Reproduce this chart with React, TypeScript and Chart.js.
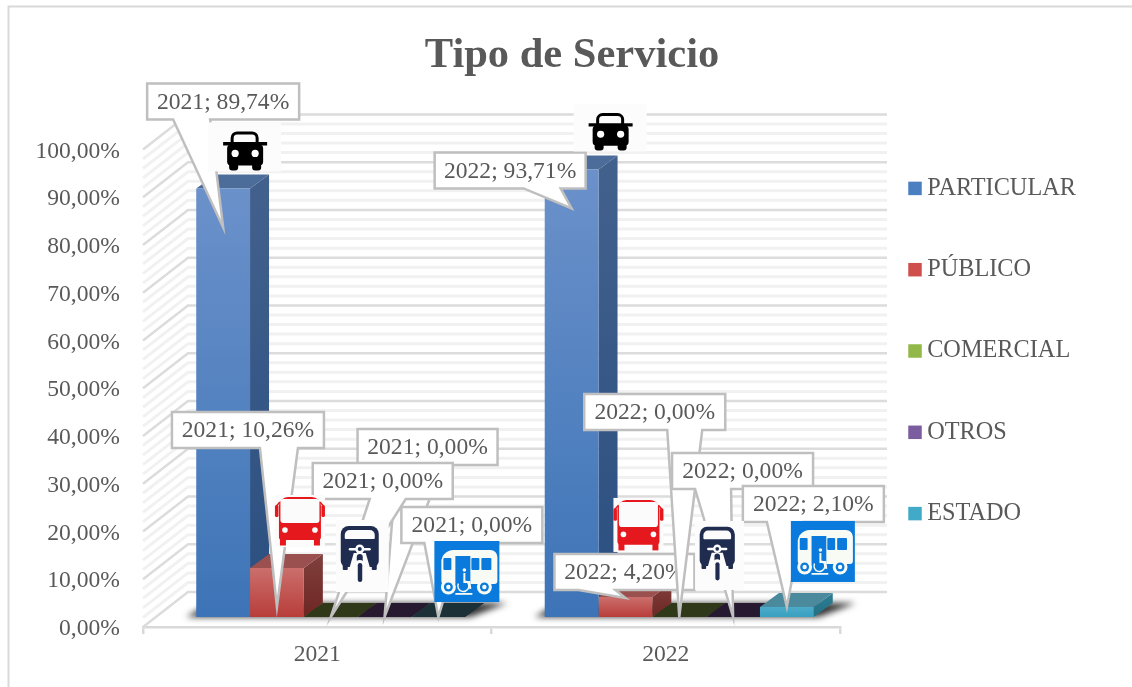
import React, { useEffect, useRef } from "react";
import { Chart, registerables } from "chart.js";

Chart.register(...registerables);

const categories = ["2021", "2022"];
const seriesNames = ["PARTICULAR", "PÚBLICO", "COMERCIAL", "OTROS", "ESTADO"];
const particular = [89.74, 93.71];
const publico = [10.26, 4.2];
const comercial = [0, 0];
const otros = [0, 0];
const estado = [0, 2.1];
const yTickStep = 10;
const yMinorStep = 2;

const FONT = '"Liberation Serif", "Times New Roman", serif';
const TEXT = "#595959";
const FONT_SIZE = 23.6;
const LEGEND_FONT_SIZE = 24.3;

// face colours: front top, front bottom, side top, side bottom, top face, zero-height top face, legend
const faces = [
  { ft: "#6b91ca", fb: "#3d74b7", st: "#43618d", sb: "#2a4f80", top: "#4c6c99", zero: "#4c6c99", leg: "#4a7fc1" },
  { ft: "#cb6f6c", fb: "#b83d3a", st: "#80403d", sb: "#6e2623", top: "#9a504e", zero: "#9a504e", leg: "#cf4f4c" },
  { ft: "#9bbb59", fb: "#7f9f3c", st: "#6a8030", sb: "#5a7028", top: "#2f3819", zero: "#2f3819", leg: "#92b84a" },
  { ft: "#8064a2", fb: "#654a87", st: "#503a6a", sb: "#433058", top: "#271a30", zero: "#271a30", leg: "#7b5c9e" },
  { ft: "#4cabc9", fb: "#38a0c0", st: "#2d7f93", sb: "#256f84", top: "#4b8a9c", zero: "#1c3137", leg: "#41aac8" },
];

// callout placement, relative to the tip on each bar: [series, category, tipDy, boxDx, boxDy, boxW, tailFrom, tailTo]
const calloutOrder: number[][] = [
  [0, 0, 39, -76, -144, 152, -50, -13],
  [1, 0, 39, -105, -195, 152, -17, 21],
  [3, 0, 0, -27, -188, 140, 12, 58],
  [2, 0, 0, -18, -154, 140, 39, 75],
  [4, 0, 0, -37, -110, 141, -14, 22],
  [0, 1, 39, -137, -56, 151, -48, -11],
  [1, 1, 1, -71, -44, 140, -47, -10],
  [2, 1, 0, -95, -223, 141, -12, 23],
  [3, 1, 0, -61, -164, 141, -38, -2],
  [4, 1, 0, -44, -121, 141, -20, 16],
];
const BOX_H = 36;

// icons, relative to the same tip: [kind, series, category, tipDy, dx, dy, w, h]
const iconPlace: (string | number)[][] = [
  ["car", 0, 0, 39, -15, -105, 73, 49],
  ["bus", 1, 0, 39, -2, -112, 50, 52],
  ["moto", 2, 0, 0, 5, -97, 53, 72],
  ["blue", 4, 0, 0, -4, -76, 65, 61],
  ["car", 0, 1, 39, 2, -104, 73, 47],
  ["bus", 1, 1, 1, -12, -100, 50, 54],
  ["moto", 3, 1, 0, -38, -96, 49, 69],
  ["blue", 4, 1, 0, 4, -86, 64, 61],
];

const SHIFT_X = 13.5;
const SHIFT_Y = -10;
const DX = 19;
const DY = 14;
const WALL_X = 45;
const WALL_Y = 35;
const WALL_END = 887;
const LEGEND_PAD = 57;

const fmt = (v: number) => v.toFixed(2).replace(".", ",") + "%";

function poly(c: CanvasRenderingContext2D, pts: number[][], fill: any) {
  c.beginPath();
  pts.forEach((p, i) => (i ? c.lineTo(p[0], p[1]) : c.moveTo(p[0], p[1])));
  c.closePath();
  c.fillStyle = fill;
  c.fill();
}

function unit(c: CanvasRenderingContext2D, x: number, y: number, w: number, h: number, uw: number, uh: number, bg: string, fn: () => void) {
  c.save();
  c.fillStyle = bg;
  c.fillRect(x, y, w, h);
  c.translate(x, y);
  c.scale(w / uw, h / uh);
  fn();
  c.restore();
}

function rr(c: CanvasRenderingContext2D, x: number, y: number, w: number, h: number, r: any, fill: string) {
  c.beginPath();
  c.roundRect(x, y, w, h, r);
  c.fillStyle = fill;
  c.fill();
}

function circle(c: CanvasRenderingContext2D, x: number, y: number, r: number, fill: string) {
  c.beginPath();
  c.arc(x, y, r, 0, Math.PI * 2);
  c.fillStyle = fill;
  c.fill();
}

function drawCar(c: CanvasRenderingContext2D, x: number, y: number, w: number, h: number) {
  unit(c, x, y, w, h, 73, 49, "#fcfcfc", () => {
    const k = "#000";
    c.lineWidth = 3;
    c.strokeStyle = k;
    c.beginPath();
    c.roundRect(24, 10.5, 25, 16, [5, 5, 0, 0]);
    c.stroke();
    rr(c, 15, 19.5, 44, 3.5, 0, k);
    rr(c, 19, 22, 36, 21, 4, k);
    rr(c, 21, 40, 9, 8, 3, k);
    rr(c, 44, 40, 9, 8, 3, k);
    circle(c, 27, 31, 3.6, "#fff");
    circle(c, 47, 31, 3.6, "#fff");
  });
}

function drawBus(c: CanvasRenderingContext2D, x: number, y: number, w: number, h: number) {
  unit(c, x, y, w, h, 50, 52, "#fbfbfb", () => {
    const r = "#e5191d";
    rr(c, 0, 10, 3.5, 12, 1.5, r);
    rr(c, 46.5, 10, 3.5, 12, 1.5, r);
    c.strokeStyle = r;
    c.lineWidth = 1.5;
    c.beginPath();
    c.moveTo(1.5, 11);
    c.lineTo(5, 7);
    c.moveTo(48.5, 11);
    c.lineTo(45, 7);
    c.stroke();
    rr(c, 4, 2, 42, 43, [9, 9, 3, 3], r);
    rr(c, 5.5, 4, 39, 24, 3, "#fbfbfb");
    circle(c, 10, 35, 2.8, "#fbfbfb");
    circle(c, 40, 35, 2.8, "#fbfbfb");
    rr(c, 5, 44, 6, 6.5, 0, r);
    rr(c, 39, 44, 6, 6.5, 0, r);
  });
}

function drawMoto(c: CanvasRenderingContext2D, x: number, y: number, w: number, h: number) {
  unit(c, x, y, w, h, 53, 72, "#fcfcfc", () => {
    const n = "#1f2c4f";
    const wh = "#fcfcfc";
    rr(c, 5, 6, 38, 41, [8, 8, 6, 6], n);
    rr(c, 7, 45, 5, 5, 1, n);
    rr(c, 36, 45, 5, 5, 1, n);
    rr(c, 9, 10, 30, 9, [5, 5, 1, 1], wh);
    poly(c, [[14, 47], [34, 47], [30, 33], [18, 33]], wh);
    rr(c, 13, 28, 22, 2.5, 1.2, wh);
    circle(c, 24, 29, 4.5, wh);
    circle(c, 24, 29, 2, n);
    rr(c, 21, 34, 6, 9, 3, n);
    rr(c, 19, 40, 10, 24, 5, wh);
    rr(c, 22, 43, 4.5, 19, 2.2, n);
  });
}

function drawBlue(c: CanvasRenderingContext2D, x: number, y: number, w: number, h: number) {
  unit(c, x, y, w, h, 65, 61, "#0a7bdc", () => {
    const b = "#0a7bdc";
    const wh = "#f8fbf4";
    rr(c, 7, 9, 56, 34, [12, 7, 3, 3], wh);
    rr(c, 9, 17, 8, 12, 1, b);
    rr(c, 21, 15, 15, 38, 0, b);
    rr(c, 37, 17, 8, 12, 1, b);
    rr(c, 47, 17, 10, 12, 1, b);
    circle(c, 14, 46, 7.5, wh);
    circle(c, 14, 46, 4.5, b);
    circle(c, 14, 46, 2.2, wh);
    circle(c, 50, 46, 7.5, wh);
    circle(c, 50, 46, 4.5, b);
    circle(c, 50, 46, 2.2, wh);
    circle(c, 30, 29, 1.8, wh);
    c.strokeStyle = wh;
    c.lineWidth = 2;
    c.beginPath();
    c.moveTo(30, 32);
    c.lineTo(30, 41);
    c.lineTo(35, 41);
    c.lineTo(36, 48);
    c.stroke();
    c.lineWidth = 1.5;
    c.beginPath();
    c.arc(29, 45, 5.5, -1.2, 3.6);
    c.stroke();
    rr(c, 21, 52, 17, 1.8, 0, wh);
  });
}

const iconDrawers: Record<string, typeof drawCar> = { car: drawCar, bus: drawBus, moto: drawMoto, blue: drawBlue };

const scene = {
  id: "scene",
  beforeLayout(chart: any) {
    const l = chart.legend;
    if (l && !l.__wrapped) {
      l.__wrapped = true;
      const f = l.fit.bind(l);
      l.fit = () => {
        f();
        l.width = 292;
      };
    }
  },
  afterLayout(chart: any) {
    const l = chart.legend;
    l.left = 915 - LEGEND_PAD;
    l.right = 1132;
    l.top = 0;
    l.bottom = 702;
  },
  beforeDraw(chart: any) {
    const c = chart.ctx;
    c.save();
    c.strokeStyle = "#d9d9d9";
    c.lineWidth = 2;
    c.beginPath();
    c.moveTo(8.5, 687);
    c.lineTo(8.5, 6.5);
    c.lineTo(1132, 6.5);
    c.stroke();
    c.restore();
  },
  beforeDatasetsDraw(chart: any) {
    const c = chart.ctx;
    const y = chart.scales.y;
    const left = chart.chartArea.left;
    c.save();
    c.lineCap = "butt";
    // walls: minor lines, then major lines, on the same value scale
    const drawLine = (v: number) => {
      const py = y.getPixelForValue(v);
      c.beginPath();
      c.moveTo(left, py);
      c.lineTo(left + WALL_X, py - WALL_Y);
      c.lineTo(WALL_END, py - WALL_Y);
      c.stroke();
    };
    c.strokeStyle = "#f1f1f1";
    c.lineWidth = 3;
    for (let v = 0; v <= y.max; v += yMinorStep) if (v % yTickStep) drawLine(v);
    c.strokeStyle = "#dcdcdc";
    c.lineWidth = 2.5;
    for (let v = 0; v <= y.max; v += yTickStep) drawLine(v);

    // floor shadows under each group
    categories.forEach((_, j) => {
      const first = chart.getDatasetMeta(0).data[j];
      const last = chart.getDatasetMeta(seriesNames.length - 1).data[j];
      const x0 = first.x - first.width / 2 + SHIFT_X;
      const x1 = last.x + last.width / 2 + SHIFT_X;
      const base = y.getPixelForValue(0) + SHIFT_Y;
      c.save();
      c.filter = "blur(3px)";
      poly(c, [[x0 - 10, base], [x1 + 5, base], [x1 + 42, base - DY], [x0 + 14, base - DY]], "#333333");
      c.restore();
    });

    // side and top faces, left to right
    categories.forEach((_, j) => {
      seriesNames.forEach((__, i) => {
        const b = chart.getDatasetMeta(i).data[j];
        const f = faces[i];
        const xl = b.x - b.width / 2 + SHIFT_X;
        const xr = b.x + b.width / 2 + SHIFT_X;
        const yt = b.y + SHIFT_Y;
        const yb = b.base + SHIFT_Y;
        const v = chart.data.datasets[i].data[j];
        if (v > 0) {
          const g = c.createLinearGradient(0, yt - DY, 0, yb);
          g.addColorStop(0, f.st);
          g.addColorStop(1, f.sb);
          poly(c, [[xr, yt], [xr + DX, yt - DY], [xr + DX, yb - DY], [xr, yb]], g);
        }
        poly(c, [[xl, yt], [xr, yt], [xr + DX, yt - DY], [xl + DX, yt - DY]], v > 0 ? f.top : f.zero);
      });
    });
    c.restore();
    c.save();
    c.translate(SHIFT_X, SHIFT_Y);
  },
  afterDatasetsDraw(chart: any) {
    const c = chart.ctx;
    c.restore();
    c.save();
    const tip = (i: number, j: number, dy: number) => {
      const b = chart.getDatasetMeta(i).data[j];
      return [b.x + SHIFT_X, b.y + SHIFT_Y + dy];
    };
    calloutOrder.forEach(([i, j, tipDy, bx, by, bw, t0, t1]) => {
      const [tx, ty] = tip(i, j, tipDy);
      const L = tx + bx;
      const T = ty + by;
      const B = T + BOX_H;
      const R = L + bw;
      c.beginPath();
      c.moveTo(L, T);
      c.lineTo(R, T);
      c.lineTo(R, B);
      c.lineTo(tx + t1, B);
      c.lineTo(tx, ty);
      c.lineTo(tx + t0, B);
      c.lineTo(L, B);
      c.closePath();
      c.fillStyle = "#ffffff";
      c.fill();
      c.strokeStyle = "#bfbfbf";
      c.lineWidth = 2.5;
      c.lineJoin = "miter";
      c.stroke();
      c.fillStyle = TEXT;
      c.font = `${FONT_SIZE}px ${FONT}`;
      c.textAlign = "center";
      c.textBaseline = "middle";
      const label = `${categories[j]}; ${fmt(chart.data.datasets[i].data[j])}`;
      c.fillText(label, (L + R) / 2, (T + B) / 2 + 1);
    });
    iconPlace.forEach(([kind, i, j, tipDy, dx, dy, w, h]) => {
      const [tx, ty] = tip(i as number, j as number, tipDy as number);
      iconDrawers[kind as string](c, tx + (dx as number), ty + (dy as number), w as number, h as number);
    });
    c.restore();
  },
};

const seriesValues = [particular, publico, comercial, otros, estado];

export default function App() {
  const ref = useRef<HTMLCanvasElement>(null);
  useEffect(() => {
    const chart = new Chart(ref.current as HTMLCanvasElement, {
      type: "bar",
      data: {
        labels: categories,
        datasets: seriesNames.map((name, i) => ({
          label: name,
          data: seriesValues[i],
          categoryPercentage: 0.772,
          barPercentage: 1,
          borderWidth: 0,
          backgroundColor: (ctx: any) => {
            const sc = ctx.chart.scales.y;
            const v = ctx.parsed ? ctx.parsed.y : undefined;
            if (!sc || v === undefined) return faces[i].leg;
            const g = ctx.chart.ctx.createLinearGradient(0, sc.getPixelForValue(v), 0, sc.getPixelForValue(0));
            g.addColorStop(0, faces[i].ft);
            g.addColorStop(1, faces[i].fb);
            return g;
          },
        })),
      },
      options: {
        responsive: false,
        animation: false,
        devicePixelRatio: 1,
        layout: { padding: { left: 12, right: 0, top: 0, bottom: 0 } },
        plugins: {
          tooltip: { enabled: false },
          title: {
            display: true,
            text: "Tipo de Servicio",
            color: TEXT,
            font: { family: FONT, size: 42.5, weight: "bold", lineHeight: 1.2 },
            padding: { top: 31, bottom: 67.4 },
          },
          legend: {
            position: "right",
            labels: {
              usePointStyle: true,
              boxWidth: 0.01,
              boxHeight: 13.5,
              padding: LEGEND_PAD,
              color: TEXT,
              font: { family: FONT, size: LEGEND_FONT_SIZE },
              generateLabels: () =>
                seriesNames.map((text, i) => ({
                  text,
                  fillStyle: faces[i].leg,
                  strokeStyle: faces[i].leg,
                  lineWidth: 0,
                  pointStyle: "rect",
                  datasetIndex: i,
                  fontColor: TEXT,
                })),
            },
          },
        },
        scales: {
          x: {
            offset: true,
            afterFit: (s: any) => {
              s.height = 60;
            },
            grid: { drawOnChartArea: false, color: "#d9d9d9", tickColor: "#d9d9d9", lineWidth: 2.5, tickLength: 7 },
            border: { color: "#d9d9d9", width: 2.5 },
            ticks: { color: TEXT, font: { family: FONT, size: FONT_SIZE }, padding: 7 },
          },
          y: {
            min: 0,
            max: 100,
            afterFit: (s: any) => {
              s.width = 131;
            },
            grid: { display: false, drawTicks: false },
            border: { display: false },
            ticks: {
              stepSize: yTickStep,
              color: TEXT,
              padding: 23,
              labelOffset: 2,
              font: { family: FONT, size: FONT_SIZE },
              callback: (v: any) => fmt(Number(v)),
            },
          },
        },
      },
      plugins: [scene],
    } as any);
    return () => chart.destroy();
  }, []);
  return (
    <canvas
      ref={ref}
      width={1132}
      height={687}
      style={{ position: "fixed", left: 0, top: 0, width: 1132, height: 687, display: "block" }}
    />
  );
}
